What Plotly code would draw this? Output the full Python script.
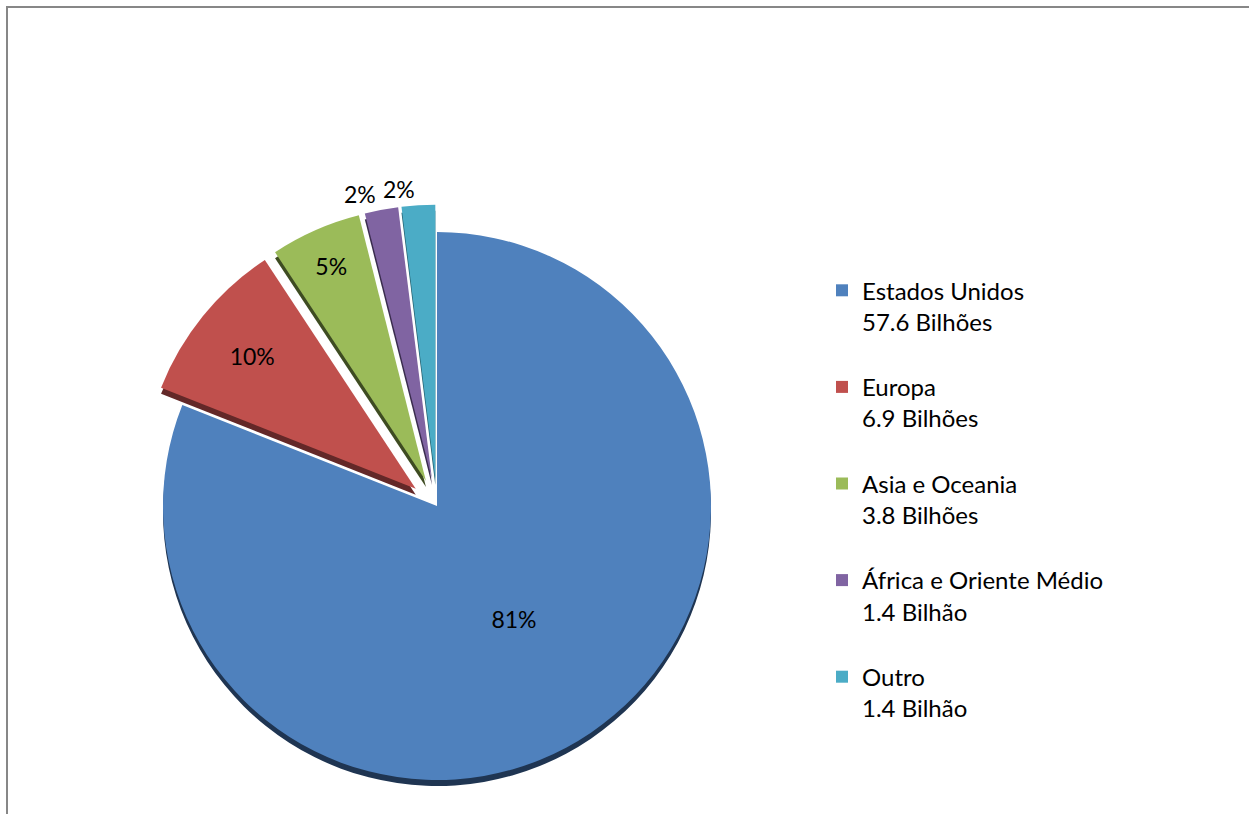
import math
import plotly.graph_objects as go

# Receita por região (bilhões)
regions = ["Estados Unidos", "Europa", "Asia e Oceania", "África e Oriente Médio", "Outro"]
values = [57.6, 6.9, 3.8, 1.4, 1.4]
value_text = ["57.6", "6.9", "3.8", "1.4", "1.4"]
units = ["Bilhões", "Bilhões", "Bilhões", "Bilhão", "Bilhão"]

face_colors = ["#4F81BD", "#C0504D", "#9BBB59", "#8064A2", "#4BACC6"]
side_colors = ["#1F3552", "#632828", "#3E4C22", "#3A2C4E", "#23606F"]
pulls = [0, 0.1, 0.1, 0.1, 0.1]
text_pos = ["inside", "inside", "inside", "none", "none"]
label_outside = [False, False, False, True, True]

W, H = 1249, 814
CX, CY, R = 437, 506, 274          # pie centre and radius in pixels
DEPTH = 6                          # thickness of the slice sides

half = R * (1 + max(pulls))
dom_x = [(CX - half) / W, (CX + half) / W]
dom_y = [1 - (CY + half) / H, 1 - (CY - half) / H]
dom_y_side = [dom_y[0] - DEPTH / H, dom_y[1] - DEPTH / H]

legend_labels = [f"\u00a0<br>{n}<br>{v} {u}" for n, v, u in zip(regions, value_text, units)]

fig = go.Figure()

# darker copy underneath gives the pie its depth
fig.add_trace(go.Pie(
    labels=legend_labels, values=values, sort=False, direction="clockwise",
    rotation=0, pull=pulls, marker=dict(colors=side_colors, line=dict(width=0)),
    textinfo="none", hoverinfo="skip", showlegend=False,
    domain=dict(x=dom_x, y=dom_y_side),
))

fig.add_trace(go.Pie(
    labels=legend_labels, values=values, sort=False, direction="clockwise",
    rotation=0, pull=pulls, marker=dict(colors=face_colors, line=dict(width=0)),
    texttemplate="%{percent:.0%}", textposition=text_pos,
    insidetextorientation="horizontal",
    textfont=dict(family="Lato", size=23, color="#000000"),
    domain=dict(x=dom_x, y=dom_y),
))

# percentage labels above the thin slices, right-aligned at each slice's mid-angle
total = sum(values)
annotations = []
cum = 0.0
for v, p, outside in zip(values, pulls, label_outside):
    mid = (cum + v / 2) / total * 2 * math.pi
    cum += v
    if not outside:
        continue
    rl = R * (1 + p) + 16
    annotations.append(dict(
        x=(CX + rl * math.sin(mid)) / W, y=1 - (CY - rl * math.cos(mid)) / H,
        xref="paper", yref="paper", text=f"{round(100 * v / total)}%",
        showarrow=False, font=dict(family="Lato", size=23, color="#000000"),
        xanchor="right", yanchor="middle",
    ))

fig.update_layout(
    width=W, height=H, autosize=False,
    margin=dict(l=0, r=0, t=0, b=0),
    paper_bgcolor="#FFFFFF", plot_bgcolor="#FFFFFF",
    font=dict(family="Lato", size=24, color="#000000"),
    uniformtext=dict(minsize=23, mode="show"),
    showlegend=True,
    legend=dict(x=822 / W, xanchor="left", y=1 - 237 / H, yanchor="top",
                bgcolor="rgba(0,0,0,0)", borderwidth=0,
                font=dict(family="Lato", size=24, color="#000000")),
    annotations=annotations,
    shapes=[dict(type="rect", xref="paper", yref="paper",
                 x0=7 / W, x1=1.05, y0=-0.05, y1=1 - 7 / H,
                 line=dict(color="#878787", width=2), fillcolor="rgba(0,0,0,0)")],
)

fig.write_html("out.html")
